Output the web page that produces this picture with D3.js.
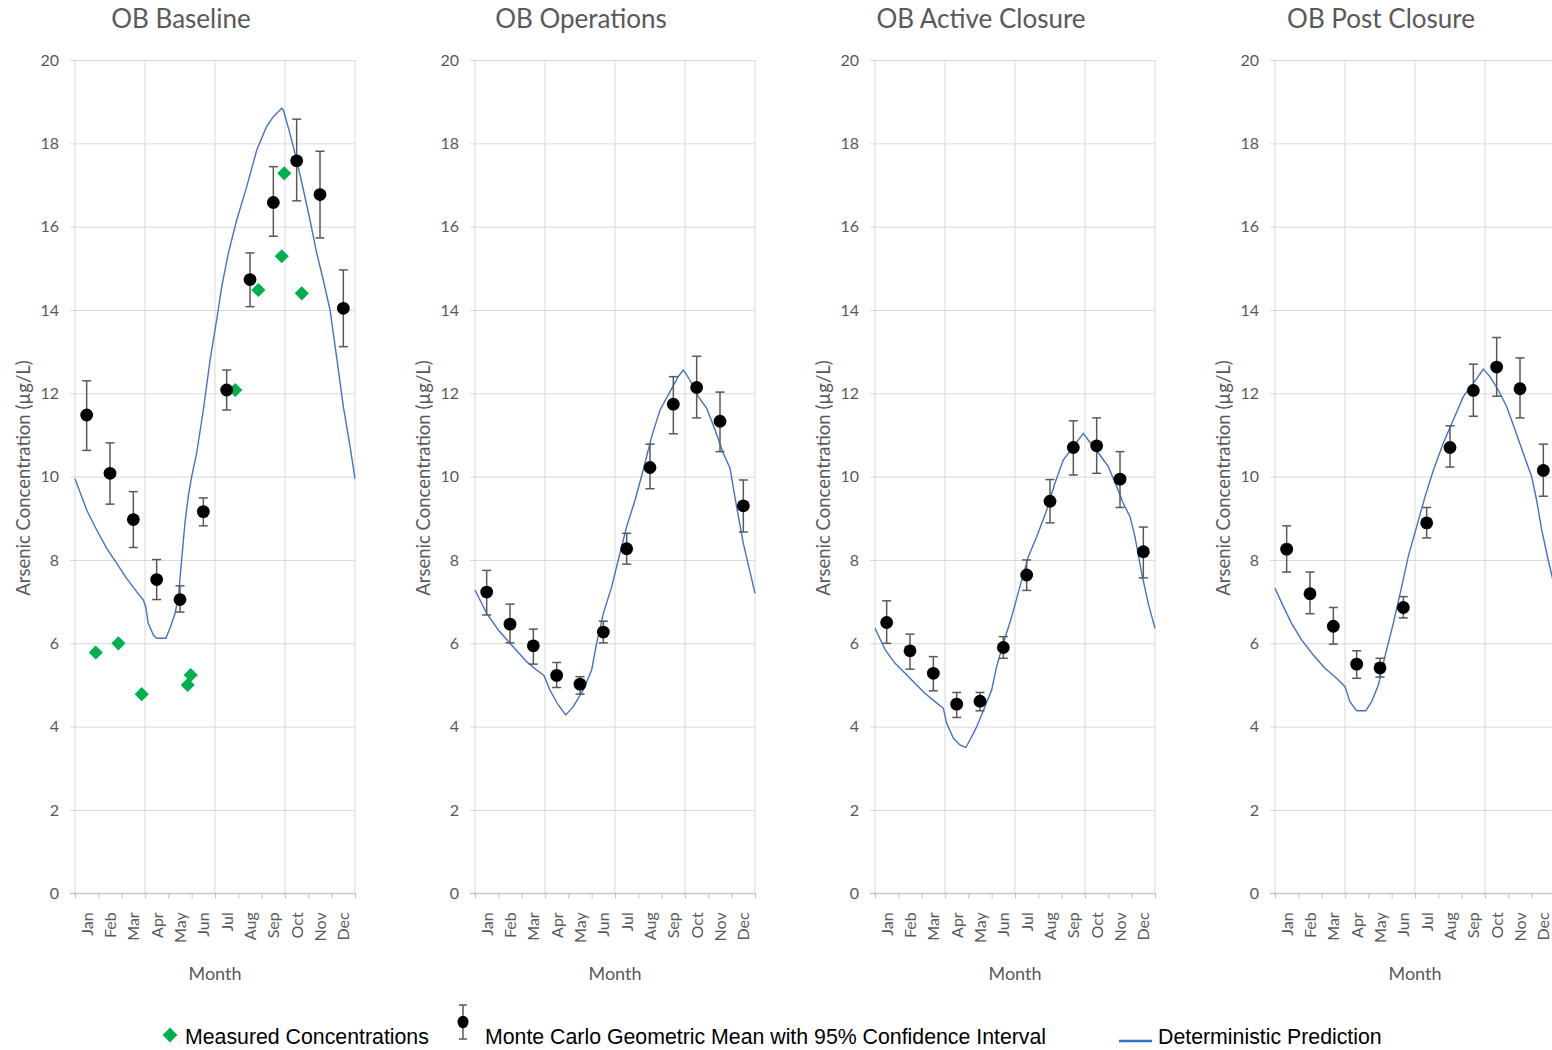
<!DOCTYPE html>
<html>
<head>
<meta charset="utf-8">
<script src="https://cdn.jsdelivr.net/npm/d3@7"></script>
<style>
  html, body { margin: 0; padding: 0; background: #fff; }
  svg { display: block; }
</style>
</head>
<body>
<svg id="chart" width="1552" height="1050"></svg>
<script>
// ---- data -------------------------------------------------------------
const monthLabels = ["Jan","Feb","Mar","Apr","May","Jun","Jul","Aug","Sep","Oct","Nov","Dec"];
const yTicks = [0, 2, 4, 6, 8, 10, 12, 14, 16, 18, 20];
const panelTitles = ["OB Baseline", "OB Operations", "OB Active Closure", "OB Post Closure"];

// Monte Carlo geometric means with 95% CI, one per month
const baselineMean = [11.48, 10.08, 8.97, 7.53, 7.05, 9.16, 12.08, 14.73, 16.58, 17.58, 16.77, 14.04];
const baselineLow  = [10.63, 9.34, 8.30, 7.05, 6.75, 8.82, 11.60, 14.08, 15.77, 16.62, 15.73, 13.12];
const baselineHigh = [12.30, 10.81, 9.64, 8.01, 7.38, 9.49, 12.56, 15.37, 17.44, 18.58, 17.81, 14.96];

const operationsMean = [7.23, 6.46, 5.94, 5.23, 5.02, 6.27, 8.27, 10.22, 11.74, 12.14, 11.33, 9.30];
const operationsLow  = [6.68, 6.01, 5.50, 4.94, 4.78, 6.01, 7.90, 9.71, 11.03, 11.41, 10.60, 8.67];
const operationsHigh = [7.75, 6.94, 6.34, 5.54, 5.20, 6.53, 8.64, 10.78, 12.40, 12.89, 12.03, 9.92];

const activeMean = [6.50, 5.82, 5.28, 4.54, 4.61, 5.90, 7.64, 9.41, 10.70, 10.74, 9.94, 8.20];
const activeLow  = [6.00, 5.38, 4.86, 4.22, 4.38, 5.64, 7.27, 8.89, 10.04, 10.08, 9.26, 7.57];
const activeHigh = [7.02, 6.22, 5.68, 4.82, 4.82, 6.16, 8.00, 9.93, 11.34, 11.41, 10.60, 8.79];

const postMean = [8.26, 7.19, 6.41, 5.50, 5.41, 6.86, 8.89, 10.70, 12.07, 12.63, 12.11, 10.15];
const postLow  = [7.71, 6.71, 5.98, 5.16, 5.19, 6.61, 8.53, 10.23, 11.45, 11.93, 11.41, 9.53];
const postHigh = [8.82, 7.71, 6.86, 5.82, 5.64, 7.12, 9.26, 11.22, 12.70, 13.34, 12.85, 10.78];

// Measured concentrations (baseline only): time in months from Jan 1, value
const measuredMonth = [0.89, 1.86, 2.86, 4.83, 4.96, 6.87, 7.86, 8.86, 8.97, 9.72];
const measuredValue = [5.78, 6.00, 4.78, 5.00, 5.24, 12.08, 14.48, 15.29, 17.28, 14.40];

// Deterministic prediction: [month, value]
const baselineLine = [
  [0.00, 9.95], [0.50, 9.20], [0.93, 8.72], [1.36, 8.28], [1.79, 7.92], [2.21, 7.56],
  [2.64, 7.24], [2.93, 7.04], [3.03, 6.88], [3.14, 6.48], [3.36, 6.20], [3.50, 6.12],
  [3.89, 6.12], [4.07, 6.36], [4.29, 6.72], [4.43, 7.12], [4.57, 8.00], [4.71, 8.88],
  [4.86, 9.55], [5.00, 10.00], [5.21, 10.55], [5.50, 11.60], [5.79, 12.80], [6.07, 13.76],
  [6.29, 14.56], [6.57, 15.36], [6.93, 16.16], [7.36, 16.96], [7.79, 17.84], [8.21, 18.40],
  [8.50, 18.64], [8.86, 18.84], [8.93, 18.80], [9.21, 18.24], [9.50, 17.60], [9.79, 16.88],
  [10.07, 16.16], [10.36, 15.36], [10.64, 14.72], [10.93, 14.00], [11.21, 12.88],
  [11.50, 11.68], [11.79, 10.72], [12.00, 9.95]
];
const operationsLine = [
  [0.00, 7.28], [0.50, 6.72], [1.00, 6.32], [1.50, 6.00], [2.21, 5.56], [2.64, 5.36],
  [2.96, 5.22], [3.21, 4.88], [3.57, 4.52], [3.89, 4.28], [4.21, 4.48], [4.64, 4.88],
  [5.00, 5.36], [5.21, 6.00], [5.50, 6.72], [5.86, 7.36], [6.14, 8.00], [6.50, 8.80],
  [6.86, 9.44], [7.21, 10.16], [7.57, 10.96], [7.93, 11.60], [8.36, 12.04], [8.71, 12.40],
  [8.93, 12.56], [9.21, 12.32], [9.57, 11.92], [9.93, 11.64], [10.29, 11.12], [10.64, 10.56],
  [10.93, 10.20], [11.21, 9.28], [11.50, 8.40], [12.00, 7.20]
];
const activeLine = [
  [0.00, 6.36], [0.44, 5.84], [0.86, 5.52], [1.29, 5.28], [1.71, 5.04], [2.14, 4.80],
  [2.57, 4.60], [2.93, 4.44], [3.07, 4.08], [3.36, 3.72], [3.64, 3.56], [3.89, 3.50],
  [4.07, 3.68], [4.36, 4.00], [4.71, 4.48], [5.00, 4.88], [5.21, 5.44], [5.50, 6.00],
  [5.86, 6.64], [6.21, 7.36], [6.57, 8.08], [6.93, 8.56], [7.36, 9.20], [7.71, 9.84],
  [8.07, 10.40], [8.50, 10.72], [8.93, 11.04], [9.29, 10.76], [9.64, 10.52], [10.00, 10.24],
  [10.36, 9.76], [10.64, 9.36], [10.93, 9.04], [11.14, 8.56], [11.43, 7.68], [11.71, 6.96],
  [12.00, 6.36]
];
const postLine = [
  [0.00, 7.32], [0.36, 6.88], [0.71, 6.48], [1.14, 6.08], [1.64, 5.72], [2.14, 5.40],
  [2.64, 5.16], [3.00, 4.96], [3.21, 4.60], [3.50, 4.38], [3.89, 4.38], [4.14, 4.60],
  [4.43, 5.00], [4.71, 5.68], [5.07, 6.48], [5.43, 7.36], [5.71, 8.08], [6.07, 8.80],
  [6.43, 9.52], [6.79, 10.16], [7.21, 10.80], [7.64, 11.36], [8.07, 11.92], [8.50, 12.24],
  [8.93, 12.58], [9.21, 12.40], [9.57, 12.08], [9.93, 11.68], [10.29, 11.12], [10.64, 10.56],
  [11.00, 10.00], [11.21, 9.44], [11.43, 8.72], [11.71, 8.00], [12.00, 7.30]
];

const panels = [
  { title: panelTitles[0], mean: baselineMean, low: baselineLow, high: baselineHigh, line: baselineLine, measured: true },
  { title: panelTitles[1], mean: operationsMean, low: operationsLow, high: operationsHigh, line: operationsLine, measured: false },
  { title: panelTitles[2], mean: activeMean, low: activeLow, high: activeHigh, line: activeLine, measured: false },
  { title: panelTitles[3], mean: postMean, low: postLow, high: postHigh, line: postLine, measured: false }
];

// ---- layout & style ---------------------------------------------------
const svg = d3.select("#chart");
const panelStep = 400;
const plotLeft = 75, plotWidth = 280;
const plotTop = 60, plotBottom = 893.3;
const textFont = "Lato, 'Open Sans', sans-serif";
const textGray = "#595959";
const gridGray = "#d9d9d9";
const axisGray = "#bfbfbf";
const green = "#00b050";
const lineBlue = "#4472c4";

const y = d3.scaleLinear().domain([0, 20]).range([plotBottom, plotTop]);

panels.forEach((p, i) => {
  const off = i * panelStep;
  const x = d3.scaleLinear().domain([0, 12]).range([off + plotLeft, off + plotLeft + plotWidth]);
  const g = svg.append("g");

  // title
  g.append("text")
    .attr("x", off + 181).attr("y", 28)
    .attr("text-anchor", "middle")
    .attr("font-family", textFont).attr("font-size", 26)
    .attr("fill", textGray)
    .text(p.title);

  // horizontal gridlines + y tick labels
  const yAxis = g.append("g")
    .attr("transform", `translate(${off + plotLeft},0)`)
    .call(d3.axisLeft(y).tickValues(yTicks).tickSize(-plotWidth).tickPadding(16));
  yAxis.select(".domain").remove();
  yAxis.selectAll(".tick line").attr("x1", -5).attr("stroke", gridGray).attr("stroke-width", 1);
  yAxis.selectAll(".tick text")
    .attr("font-family", textFont).attr("font-size", 16).attr("fill", textGray);

  // vertical gridlines every quarter
  g.append("g").selectAll("line")
    .data([0, 3, 6, 9, 12])
    .join("line")
    .attr("x1", d => x(d)).attr("x2", d => x(d))
    .attr("y1", plotTop).attr("y2", plotBottom)
    .attr("stroke", gridGray).attr("stroke-width", 1);

  // bottom axis with month-boundary ticks
  const xAxis = g.append("g")
    .attr("transform", `translate(0,${plotBottom})`)
    .call(d3.axisBottom(x).tickValues(d3.range(0, 13)).tickSize(5).tickFormat(""));
  xAxis.select(".domain").attr("stroke", axisGray).attr("d", `M${x(0) - 5},0H${x(12)}`);
  xAxis.selectAll(".tick line").attr("stroke", axisGray);

  // month labels at month centres, rotated
  const mAxis = g.append("g")
    .attr("transform", `translate(0,${plotBottom})`)
    .call(d3.axisBottom(x).tickValues(d3.range(12).map(m => m + 0.5))
      .tickSize(0).tickFormat((d, k) => monthLabels[k]));
  mAxis.select(".domain").remove();
  mAxis.selectAll(".tick text")
    .attr("transform", "rotate(-90)")
    .attr("x", -19).attr("y", 0).attr("dy", "0.35em")
    .attr("text-anchor", "end")
    .attr("font-family", textFont).attr("font-size", 16).attr("fill", textGray);

  // axis titles
  g.append("text")
    .attr("x", off + plotLeft + plotWidth / 2).attr("y", 980)
    .attr("text-anchor", "middle")
    .attr("font-family", textFont).attr("font-size", 18).attr("fill", textGray)
    .text("Month");
  g.append("text")
    .attr("transform", `translate(${off + 30},478) rotate(-90)`)
    .attr("text-anchor", "middle")
    .attr("font-family", textFont).attr("font-size", 18.5).attr("fill", textGray)
    .text("Arsenic Concentration (µg/L)");

  // deterministic prediction
  g.append("path")
    .datum(p.line)
    .attr("fill", "none")
    .attr("stroke", lineBlue).attr("stroke-width", 1.4)
    .attr("d", d3.line().x(d => x(d[0])).y(d => y(d[1])));

  // error bars
  const eb = g.append("g").attr("stroke", textGray).attr("stroke-width", 1.5);
  const idx = d3.range(12);
  eb.selectAll("line.v").data(idx).join("line").attr("class", "v")
    .attr("x1", k => x(k + 0.5)).attr("x2", k => x(k + 0.5))
    .attr("y1", k => y(p.low[k])).attr("y2", k => y(p.high[k]));
  eb.selectAll("line.t").data(idx).join("line").attr("class", "t")
    .attr("x1", k => x(k + 0.5) - 4.5).attr("x2", k => x(k + 0.5) + 4.5)
    .attr("y1", k => y(p.high[k])).attr("y2", k => y(p.high[k]));
  eb.selectAll("line.b").data(idx).join("line").attr("class", "b")
    .attr("x1", k => x(k + 0.5) - 4.5).attr("x2", k => x(k + 0.5) + 4.5)
    .attr("y1", k => y(p.low[k])).attr("y2", k => y(p.low[k]));

  // measured concentrations
  if (p.measured) {
    g.append("g").selectAll("path")
      .data(measuredMonth.map((m, k) => [m, measuredValue[k]]))
      .join("path")
      .attr("transform", d => `translate(${x(d[0])},${y(d[1])}) rotate(45)`)
      .attr("d", d3.symbol().type(d3.symbolSquare).size(100))
      .attr("fill", green);
  }

  // Monte Carlo geometric means
  g.append("g").selectAll("circle")
    .data(idx)
    .join("circle")
    .attr("cx", k => x(k + 0.5)).attr("cy", k => y(p.mean[k]))
    .attr("r", 6.4)
    .attr("fill", "#000");
});

// ---- legend -----------------------------------------------------------
const legendFont = "'Liberation Sans', Arial, sans-serif";
const lg = svg.append("g");
lg.append("path")
  .attr("transform", "translate(170,1035) rotate(45)")
  .attr("d", d3.symbol().type(d3.symbolSquare).size(110))
  .attr("fill", green);
lg.append("text").attr("x", 185).attr("y", 1044)
  .attr("font-family", legendFont).attr("font-size", 21.3).attr("fill", "#000")
  .text("Measured Concentrations");

const mc = lg.append("g").attr("stroke", textGray).attr("stroke-width", 1.5);
mc.append("line").attr("x1", 463).attr("x2", 463).attr("y1", 1005).attr("y2", 1039);
mc.append("line").attr("x1", 459).attr("x2", 467).attr("y1", 1005).attr("y2", 1005);
mc.append("line").attr("x1", 459).attr("x2", 467).attr("y1", 1039).attr("y2", 1039);
lg.append("ellipse").attr("cx", 463).attr("cy", 1022).attr("rx", 5.5).attr("ry", 6.2).attr("fill", "#000");
lg.append("text").attr("x", 485).attr("y", 1044)
  .attr("font-family", legendFont).attr("font-size", 21.3).attr("fill", "#000")
  .text("Monte Carlo Geometric Mean with 95% Confidence Interval");

lg.append("line").attr("x1", 1119).attr("x2", 1152).attr("y1", 1041).attr("y2", 1041)
  .attr("stroke", "#2e75d0").attr("stroke-width", 2.5);
lg.append("text").attr("x", 1158).attr("y", 1044)
  .attr("font-family", legendFont).attr("font-size", 21.3).attr("fill", "#000")
  .text("Deterministic Prediction");
</script>
</body>
</html>
